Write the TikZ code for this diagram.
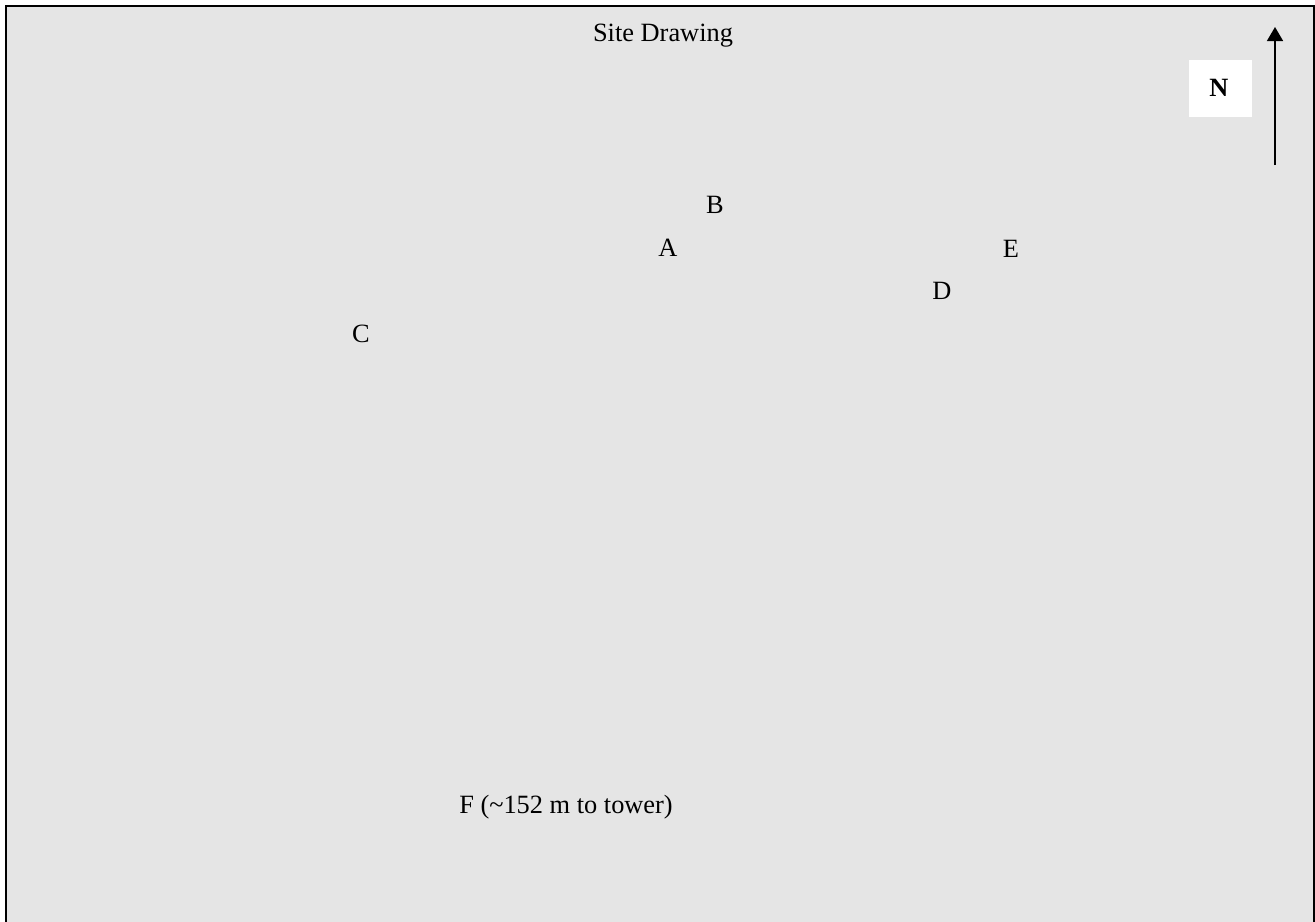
\documentclass[tikz,border=0pt]{standalone}
\usepackage{fontspec}
\setmainfont{Liberation Serif}
\usetikzlibrary{arrows.meta}
\definecolor{sitegray}{HTML}{E5E5E5}
\tikzset{
  sitelabel/.style={anchor=base, inner sep=0pt, font=\fontsize{12}{14}\selectfont},
}
\begin{document}
\begin{tikzpicture}[x=0.455pt, y=-0.455pt]
    \clip (0,0) rectangle (1315,921);
    \fill[white] (0,0) rectangle (1315,921);
    \draw[line width=0.9pt, fill=sitegray] (6,940) -- (6,6) -- (1314,6) -- (1314,940);
    \node[sitelabel] (title) at (663,42) {Site Drawing};
    % north marker
    \fill[white] (1189,60) rectangle (1252,117);
    \node[sitelabel, font=\fontsize{12}{14}\selectfont\bfseries] (north) at (1219,97) {N};
    \coordinate (ntail) at (1275,165);
    \coordinate (nhead) at (1275,27);
    \draw[line width=0.7pt, -{Triangle[width=7.3pt, length=6.4pt]}] (ntail) -- (nhead);
    % points
    \node[sitelabel] (b) at (715,213) {B};
    \node[sitelabel] (a) at (668,256) {A};
    \node[sitelabel] (e) at (1011,257) {E};
    \node[sitelabel] (d) at (942,299) {D};
    \node[sitelabel] (c) at (361,342) {C};
    \node[sitelabel] (f) at (566,813) {F (\textasciitilde152 m to tower)};
\end{tikzpicture}
\end{document}
